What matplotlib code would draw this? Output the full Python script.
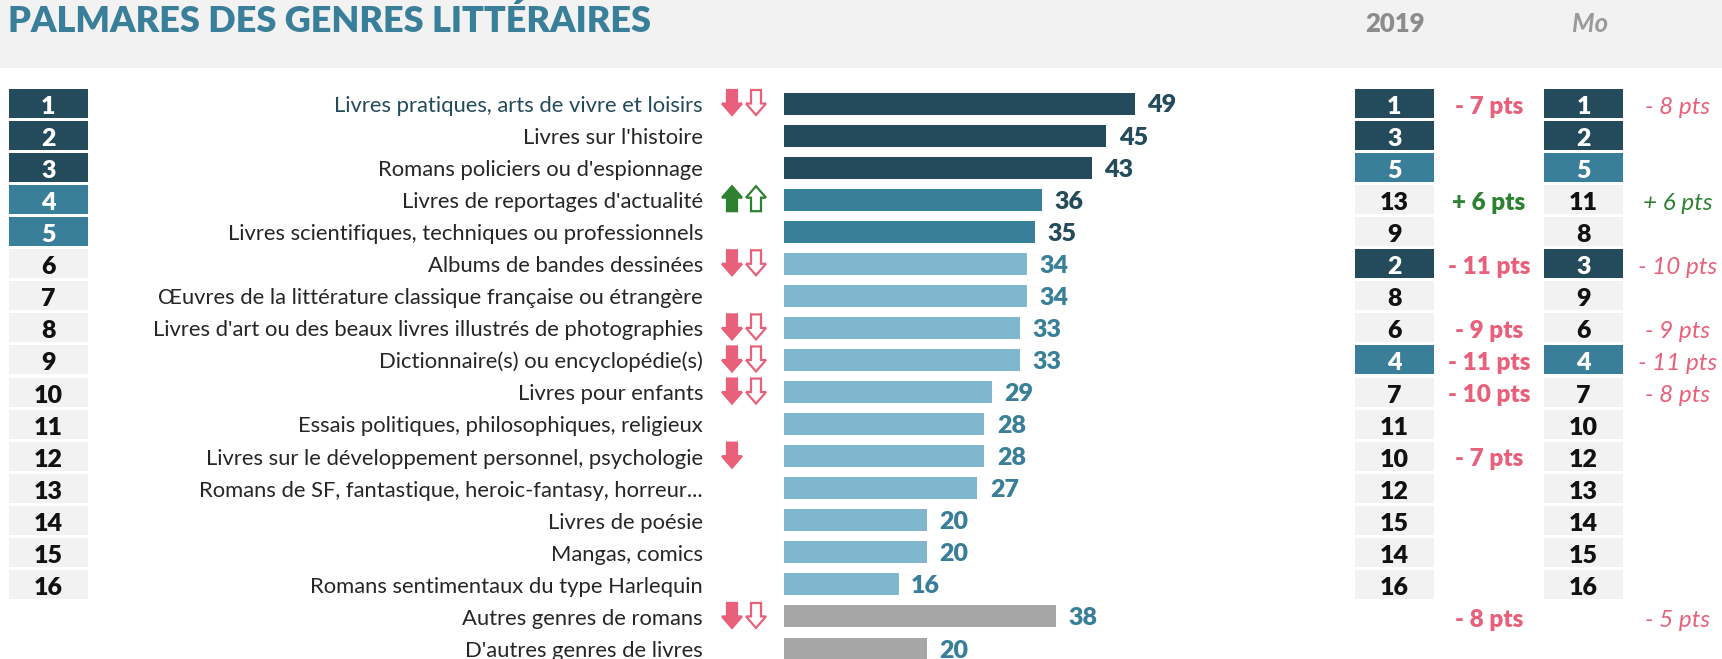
import matplotlib
matplotlib.use("Agg")
import matplotlib.pyplot as plt
import matplotlib.transforms as mt
from matplotlib.patches import Rectangle, Polygon
import numpy as np

plt.rcParams['font.family'] = ['Lato', 'DejaVu Sans']

DARK, MID, LIGHT, GREY_BAR = "#234b5b", "#3a7f99", "#7fb8ce", "#a6a6a6"
CELL, PINK, GREEN, INK = "#f2f2f2", "#e8607a", "#2e8131", "#262626"
HEAVY = "heavy"

labels = [
    "Livres pratiques, arts de vivre et loisirs",
    "Livres sur l'histoire",
    "Romans policiers ou d'espionnage",
    "Livres de reportages d'actualité",
    "Livres scientifiques, techniques ou professionnels",
    "Albums de bandes dessinées",
    "Œuvres de la littérature classique française ou étrangère",
    "Livres d'art ou des beaux livres illustrés de photographies",
    "Dictionnaire(s) ou encyclopédie(s)",
    "Livres pour enfants",
    "Essais politiques, philosophiques, religieux",
    "Livres sur le développement personnel, psychologie",
    "Romans de SF, fantastique, heroic-fantasy, horreur...",
    "Livres de poésie",
    "Mangas, comics",
    "Romans sentimentaux du type Harlequin",
    "Autres genres de romans",
    "D'autres genres de livres",
]
values = [49, 45, 43, 36, 35, 34, 34, 33, 33, 29, 28, 28, 27, 20, 20, 16, 38, 20]
rank_now = [1, 2, 3, 4, 5, 6, 7, 8, 9, 10, 11, 12, 13, 14, 15, 16, None, None]
rank_2019 = [1, 3, 5, 13, 9, 2, 8, 6, 4, 7, 11, 10, 12, 15, 14, 16, None, None]
delta_2019 = [-7, 0, 0, 6, 0, -11, 0, -9, -11, -10, 0, -7, 0, 0, 0, 0, -8, 0]
rank_mo = [1, 2, 5, 11, 8, 3, 9, 6, 4, 7, 10, 12, 13, 14, 15, 16, None, None]
delta_mo = [-8, 0, 0, 6, 0, -10, 0, -9, -11, -8, 0, 0, 0, 0, 0, 0, -5, 0]

W, H = 1722, 659
X0, PPU = 784, 7.16          # bar origin (px) and px per point
ROW0, PITCH = 103.5, 32.06   # first row centre (px) and row pitch (px)

fig = plt.figure(figsize=(W / 100, H / 100), dpi=100)
fig.patch.set_facecolor("white")
ax = fig.add_axes([0, 0, 1, 1]); ax.set_axis_off()
ax.set_xlim(-X0 / PPU, (W - X0) / PPU)
ax.set_ylim((H - ROW0) / PITCH, -ROW0 / PITCH)

# x in pixels, y in rows
pxT = mt.Affine2D().scale(1 / W, 1 / H) + fig.transFigure
rowT = mt.blended_transform_factory(pxT, ax.transData)
topT = mt.Affine2D().scale(1 / W, -1 / H).translate(0, 1) + fig.transFigure


def base(size, extra=1.0):
    """row offset putting the caps of a text of this size on the row centre"""
    return (0.36 * size * 100 / 72 + extra) / PITCH


def rank_style(r):
    if r is None:
        return None, None
    if r <= 3:
        return DARK, "white"
    if r <= 5:
        return MID, "white"
    return CELL, "#111111"


def fmt(d):
    return f"- {abs(d)} pts" if d < 0 else f"+ {d} pts"


def arrow(x, row, up, color, filled):
    # shape in px relative to centre; y converted to row units
    xs = [-5, 5, 5, 10, 0, -10, -5]
    ys = [-13.5, -13.5, 0, 0, 11.5, 0, 0]
    if up:
        ys = [-v - 2 for v in ys]
    pts = [(x + a, row + b / PITCH) for a, b in zip(xs, ys)]
    ax.add_patch(Polygon(pts, closed=True, transform=rowT,
                         facecolor=color if filled else "white",
                         edgecolor=color, linewidth=1.6, zorder=3))


# header band
ax.add_patch(Rectangle((0, 0), W, 68, transform=topT, facecolor=CELL,
                       edgecolor="none", zorder=0))
ax.text(8, 32.5, "PALMARES DES GENRES LITTÉRAIRES", transform=topT,
        ha="left", va="baseline", fontsize=26, fontweight=HEAVY, color=MID)
ax.text(1395, 31.5, "2019", transform=topT, ha="center", va="baseline",
        fontsize=18.5, fontweight=HEAVY, color="#8c8c8c")
ax.text(1590, 31.5, "Mo", transform=topT, ha="center", va="baseline",
        fontsize=18.5, fontstyle="italic", fontweight="bold", color="#9a9a9a")

rows = np.arange(len(values))
bar_colors = []
for r in rank_now:
    if r is None:
        bar_colors.append(GREY_BAR)
    elif r <= 3:
        bar_colors.append(DARK)
    elif r <= 5:
        bar_colors.append(MID)
    else:
        bar_colors.append(LIGHT)
ax.barh(rows, values, height=22 / PITCH, color=bar_colors, zorder=2)

BOX_H = 29 / PITCH
for i in rows:
    # value label
    vcol = DARK if (rank_now[i] is not None and rank_now[i] <= 5) else MID
    ax.annotate(str(values[i]), (values[i], i + base(18, 0)), xytext=(9, 0),
                textcoords="offset points", ha="left", va="baseline",
                fontsize=18, fontweight=HEAVY, color=vcol)
    # genre label
    ax.text(703, i + base(15.8, 0.5), labels[i], transform=rowT, ha="right",
            va="baseline", fontsize=15.8, color=DARK if i == 0 else INK)

    # rank boxes
    for x0, x1, r in [(9, 88, rank_now[i]), (1355, 1434, rank_2019[i]),
                      (1544, 1623, rank_mo[i])]:
        fc, tc = rank_style(r)
        if fc is None:
            continue
        ax.add_patch(Rectangle((x0, i - BOX_H / 2), x1 - x0, BOX_H,
                               transform=rowT, facecolor=fc,
                               edgecolor="none", zorder=2))
        ax.text((x0 + x1) / 2, i + base(18, 1.5), str(r), transform=rowT,
                ha="center", va="baseline", fontsize=18, fontweight=HEAVY,
                color=tc, zorder=3)

    # evolutions
    d1, d2 = delta_2019[i], delta_mo[i]
    if d1:
        c = GREEN if d1 > 0 else PINK
        ax.text(1489, i + base(17.5, 1.5), fmt(d1), transform=rowT,
                ha="center", va="baseline", fontsize=17.5, fontweight=HEAVY,
                color=c)
        arrow(732, i, d1 > 0, c, True)
    if d2:
        c = GREEN if d2 > 0 else PINK
        ax.text(1678, i + base(17.5, 1.5), fmt(d2), transform=rowT,
                ha="center", va="baseline", fontsize=17.5, fontstyle="italic",
                color=c)
        arrow(756, i, d2 > 0, c, False)

fig.savefig("out.png", dpi=100, facecolor="white")
